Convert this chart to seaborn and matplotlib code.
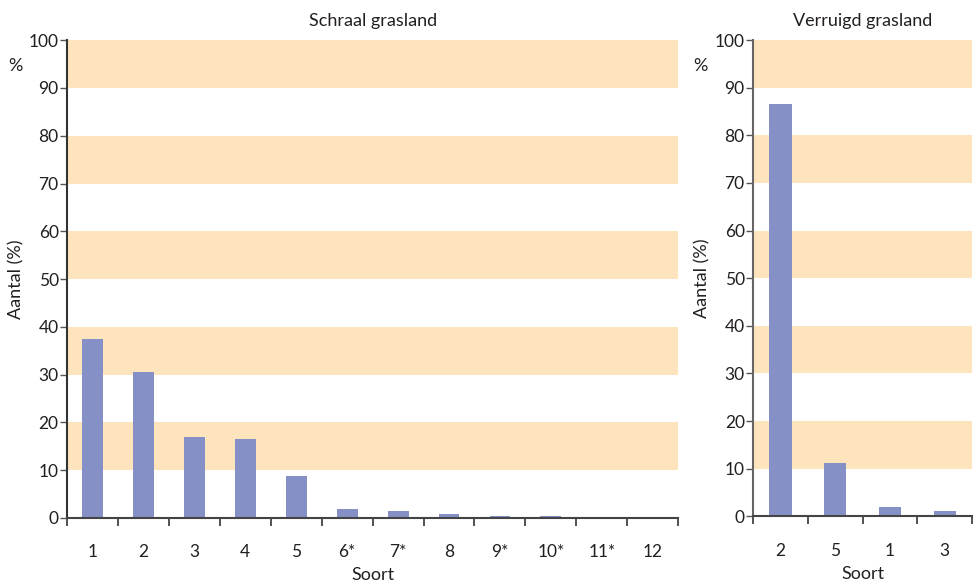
import matplotlib
matplotlib.use("Agg")
import matplotlib.pyplot as plt
import seaborn as sns
import pandas as pd
from matplotlib.ticker import FixedLocator

# Share of each species (%) in the two grassland types
schraal_soort = ["1", "2", "3", "4", "5", "6*", "7*", "8", "9*", "10*", "11*", "12"]
schraal_aantal = [37.4, 30.5, 16.9, 16.5, 8.8, 1.9, 1.5, 0.8, 0.4, 0.4, 0.3, 0.3]

verruigd_soort = ["2", "5", "1", "3"]
verruigd_aantal = [86.5, 11.1, 2.0, 1.0]

y_ticks = [0, 10, 20, 30, 40, 50, 60, 70, 80, 90, 100]
bands = [(10, 20), (30, 40), (50, 60), (70, 80), (90, 100)]

BAR = "#8590c6"
BAND = "#fee4bc"
INK = "#231f20"

sns.set_theme(style="white")
plt.rcParams["font.family"] = ["Lato", "DejaVu Sans"]

fig = plt.figure(figsize=(9.78, 5.82), dpi=100)
ax1 = fig.add_axes([0.0685, 0.110, 0.625, 0.821])
ax2 = fig.add_axes([0.770, 0.113, 0.224, 0.818])


def draw(ax, soort, aantal, title, spine_col):
    df = pd.DataFrame({"Soort": soort, "Aantal": aantal})
    n = len(soort)
    for lo, hi in bands:
        ax.axhspan(lo, hi, color=BAND, lw=0, zorder=0)
    sns.barplot(data=df, x="Soort", y="Aantal", order=soort, color=BAR,
                saturation=1, width=0.41, linewidth=0, ax=ax, zorder=2)
    ax.set_xlim(-0.5, n - 0.5)
    ax.set_ylim(0, 100)
    ax.set_yticks(y_ticks)
    ax.set_yticklabels([str(t) for t in y_ticks], fontsize=12.5, color=INK)
    ax.xaxis.set_minor_locator(FixedLocator([i - 0.5 for i in range(n + 1)]))
    ax.tick_params(axis="x", which="major", length=0, pad=19,
                   labelsize=12.5, labelcolor=INK)
    ax.tick_params(axis="x", which="minor", length=6, width=1.2,
                   color="#333333", direction="out", bottom=True)
    ax.tick_params(axis="y", length=5, width=1.0, color="#555555",
                   direction="out", left=True, pad=1)
    for s in ["top", "right"]:
        ax.spines[s].set_visible(False)
    ax.spines["left"].set_color(spine_col)
    ax.spines["left"].set_linewidth(1.5)
    ax.spines["bottom"].set_color("#444444")
    ax.spines["bottom"].set_linewidth(1.5)
    ax.set_xlabel("Soort", fontsize=13, color=INK, labelpad=5)
    ax.set_ylabel("Aantal (%)", fontsize=13, color=INK, labelpad=3)
    ax.set_title(title, fontsize=13, color=INK, pad=10)
    ax.grid(False)


draw(ax1, schraal_soort, schraal_aantal, "Schraal grasland", "#333333")
draw(ax2, verruigd_soort, verruigd_aantal, "Verruigd grasland", "#666666")

fig.text(0.008, 0.878, "%", fontsize=13, color=INK)
fig.text(0.709, 0.878, "%", fontsize=13, color=INK)

fig.savefig("out.png", dpi=100)
